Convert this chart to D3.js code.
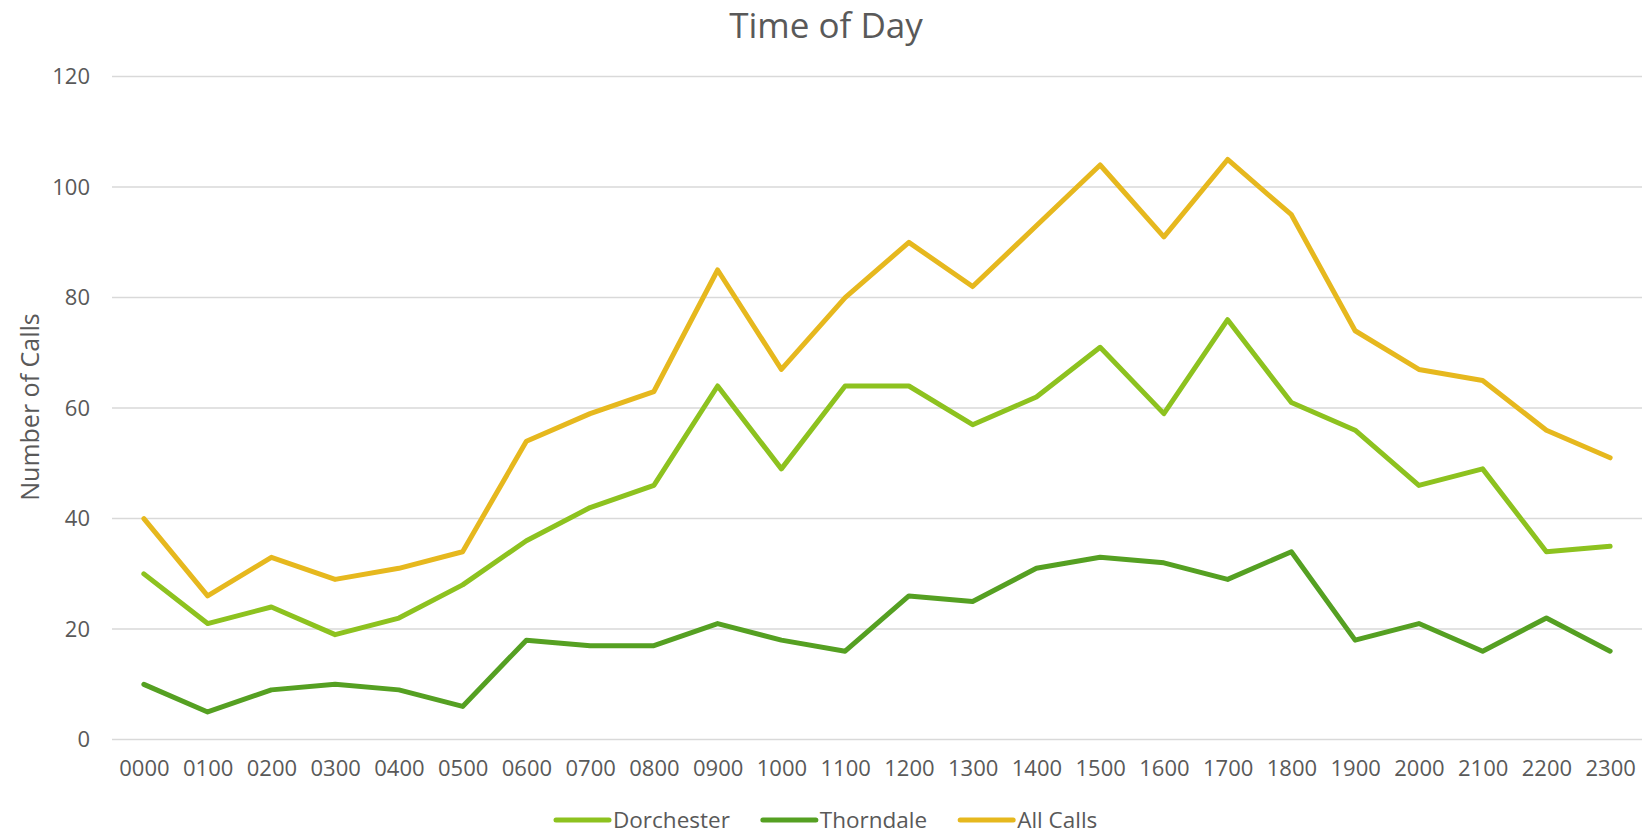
<!DOCTYPE html>
<html>
<head>
<meta charset="utf-8">
<script src="https://cdn.jsdelivr.net/npm/d3@7"></script>
<style>
    body { margin: 0; background: #fff; }
    svg { display: block; font-family: "Open Sans", sans-serif; }
</style>
</head>
<body>
<div id="chart"></div>
<script>
const hours = ["0000", "0100", "0200", "0300", "0400", "0500", "0600", "0700", "0800", "0900", "1000", "1100",
    "1200", "1300", "1400", "1500", "1600", "1700", "1800", "1900", "2000", "2100", "2200", "2300"];

const dorchester = [30, 21, 24, 19, 22, 28, 36, 42, 46, 64, 49, 64, 64, 57, 62, 71, 59, 76, 61, 56, 46, 49, 34, 35];
const thorndale = [10, 5, 9, 10, 9, 6, 18, 17, 17, 21, 18, 16, 26, 25, 31, 33, 32, 29, 34, 18, 21, 16, 22, 16];
const allCalls = [40, 26, 33, 29, 31, 34, 54, 59, 63, 85, 67, 80, 90, 82, 93, 104, 91, 105, 95, 74, 67, 65, 56, 51];

const yTicks = [0, 20, 40, 60, 80, 100, 120];

const series = [
    { name: "Dorchester", values: dorchester, color: "#8DC21F" },
    { name: "Thorndale", values: thorndale, color: "#55A022" },
    { name: "All Calls", values: allCalls, color: "#E6B81E" }
];

const width = 1645;
const height = 835;
const margin = { top: 76.6, right: 3, bottom: 95.4, left: 112 };

const svg = d3.select("#chart")
    .append("svg")
    .attr("width", width)
    .attr("height", height);

const x = d3.scalePoint()
    .domain(hours)
    .range([margin.left, width - margin.right])
    .padding(0.5);

const y = d3.scaleLinear()
    .domain([0, 120])
    .range([height - margin.bottom, margin.top]);

// gridlines
svg.append("g")
    .selectAll("line")
    .data(yTicks)
    .enter()
    .append("line")
    .attr("x1", margin.left)
    .attr("x2", width - margin.right)
    .attr("y1", d => y(d))
    .attr("y2", d => y(d))
    .attr("stroke", "#d9d9d9")
    .attr("stroke-width", 1.5);

// y axis labels
const yAxis = svg.append("g")
    .attr("transform", `translate(${margin.left - 22},0)`)
    .call(d3.axisLeft(y).tickValues(yTicks).tickSize(0).tickPadding(0));
yAxis.select(".domain").remove();
yAxis.selectAll("text")
    .attr("font-family", "Open Sans, sans-serif")
    .attr("font-size", 22)
    .attr("fill", "#595959");

// x axis labels
const xAxis = svg.append("g")
    .attr("transform", `translate(0,${height - margin.bottom})`)
    .call(d3.axisBottom(x).tickSize(0).tickPadding(21));
xAxis.select(".domain").remove();
xAxis.selectAll("text")
    .attr("font-family", "Open Sans, sans-serif")
    .attr("font-size", 22)
    .attr("fill", "#595959");

const line = d3.line()
    .x((d, i) => x(hours[i]))
    .y(d => y(d));

svg.append("g")
    .selectAll("path")
    .data(series)
    .enter()
    .append("path")
    .attr("d", d => line(d.values))
    .attr("fill", "none")
    .attr("stroke", d => d.color)
    .attr("stroke-width", 5)
    .attr("stroke-linejoin", "round")
    .attr("stroke-linecap", "round");

// title
svg.append("text")
    .attr("x", 826)
    .attr("y", 38)
    .attr("text-anchor", "middle")
    .attr("font-size", 35)
    .attr("fill", "#595959")
    .text("Time of Day");

// y title
svg.append("text")
    .attr("transform", "translate(39,407) rotate(-90)")
    .attr("text-anchor", "middle")
    .attr("font-size", 25)
    .attr("fill", "#595959")
    .text("Number of Calls");

// legend
const legend = svg.append("g");
const swatch = 55;
let lx = 0;
series.forEach(s => {
    const item = legend.append("g").attr("transform", `translate(${lx},0)`);
    item.append("line")
        .attr("x1", 2).attr("x2", swatch)
        .attr("y1", 0).attr("y2", 0)
        .attr("stroke", s.color)
        .attr("stroke-width", 5)
        .attr("stroke-linecap", "round");
    const t = item.append("text")
        .attr("x", swatch + 4)
        .attr("dy", "0.35em")
        .attr("font-size", 22.5)
        .attr("fill", "#595959")
        .text(s.name);
    lx += swatch + 4 + t.node().getComputedTextLength() + 31;
});
const legendWidth = lx - 31;
legend.attr("transform", `translate(${554},820)`);
</script>
</body>
</html>
